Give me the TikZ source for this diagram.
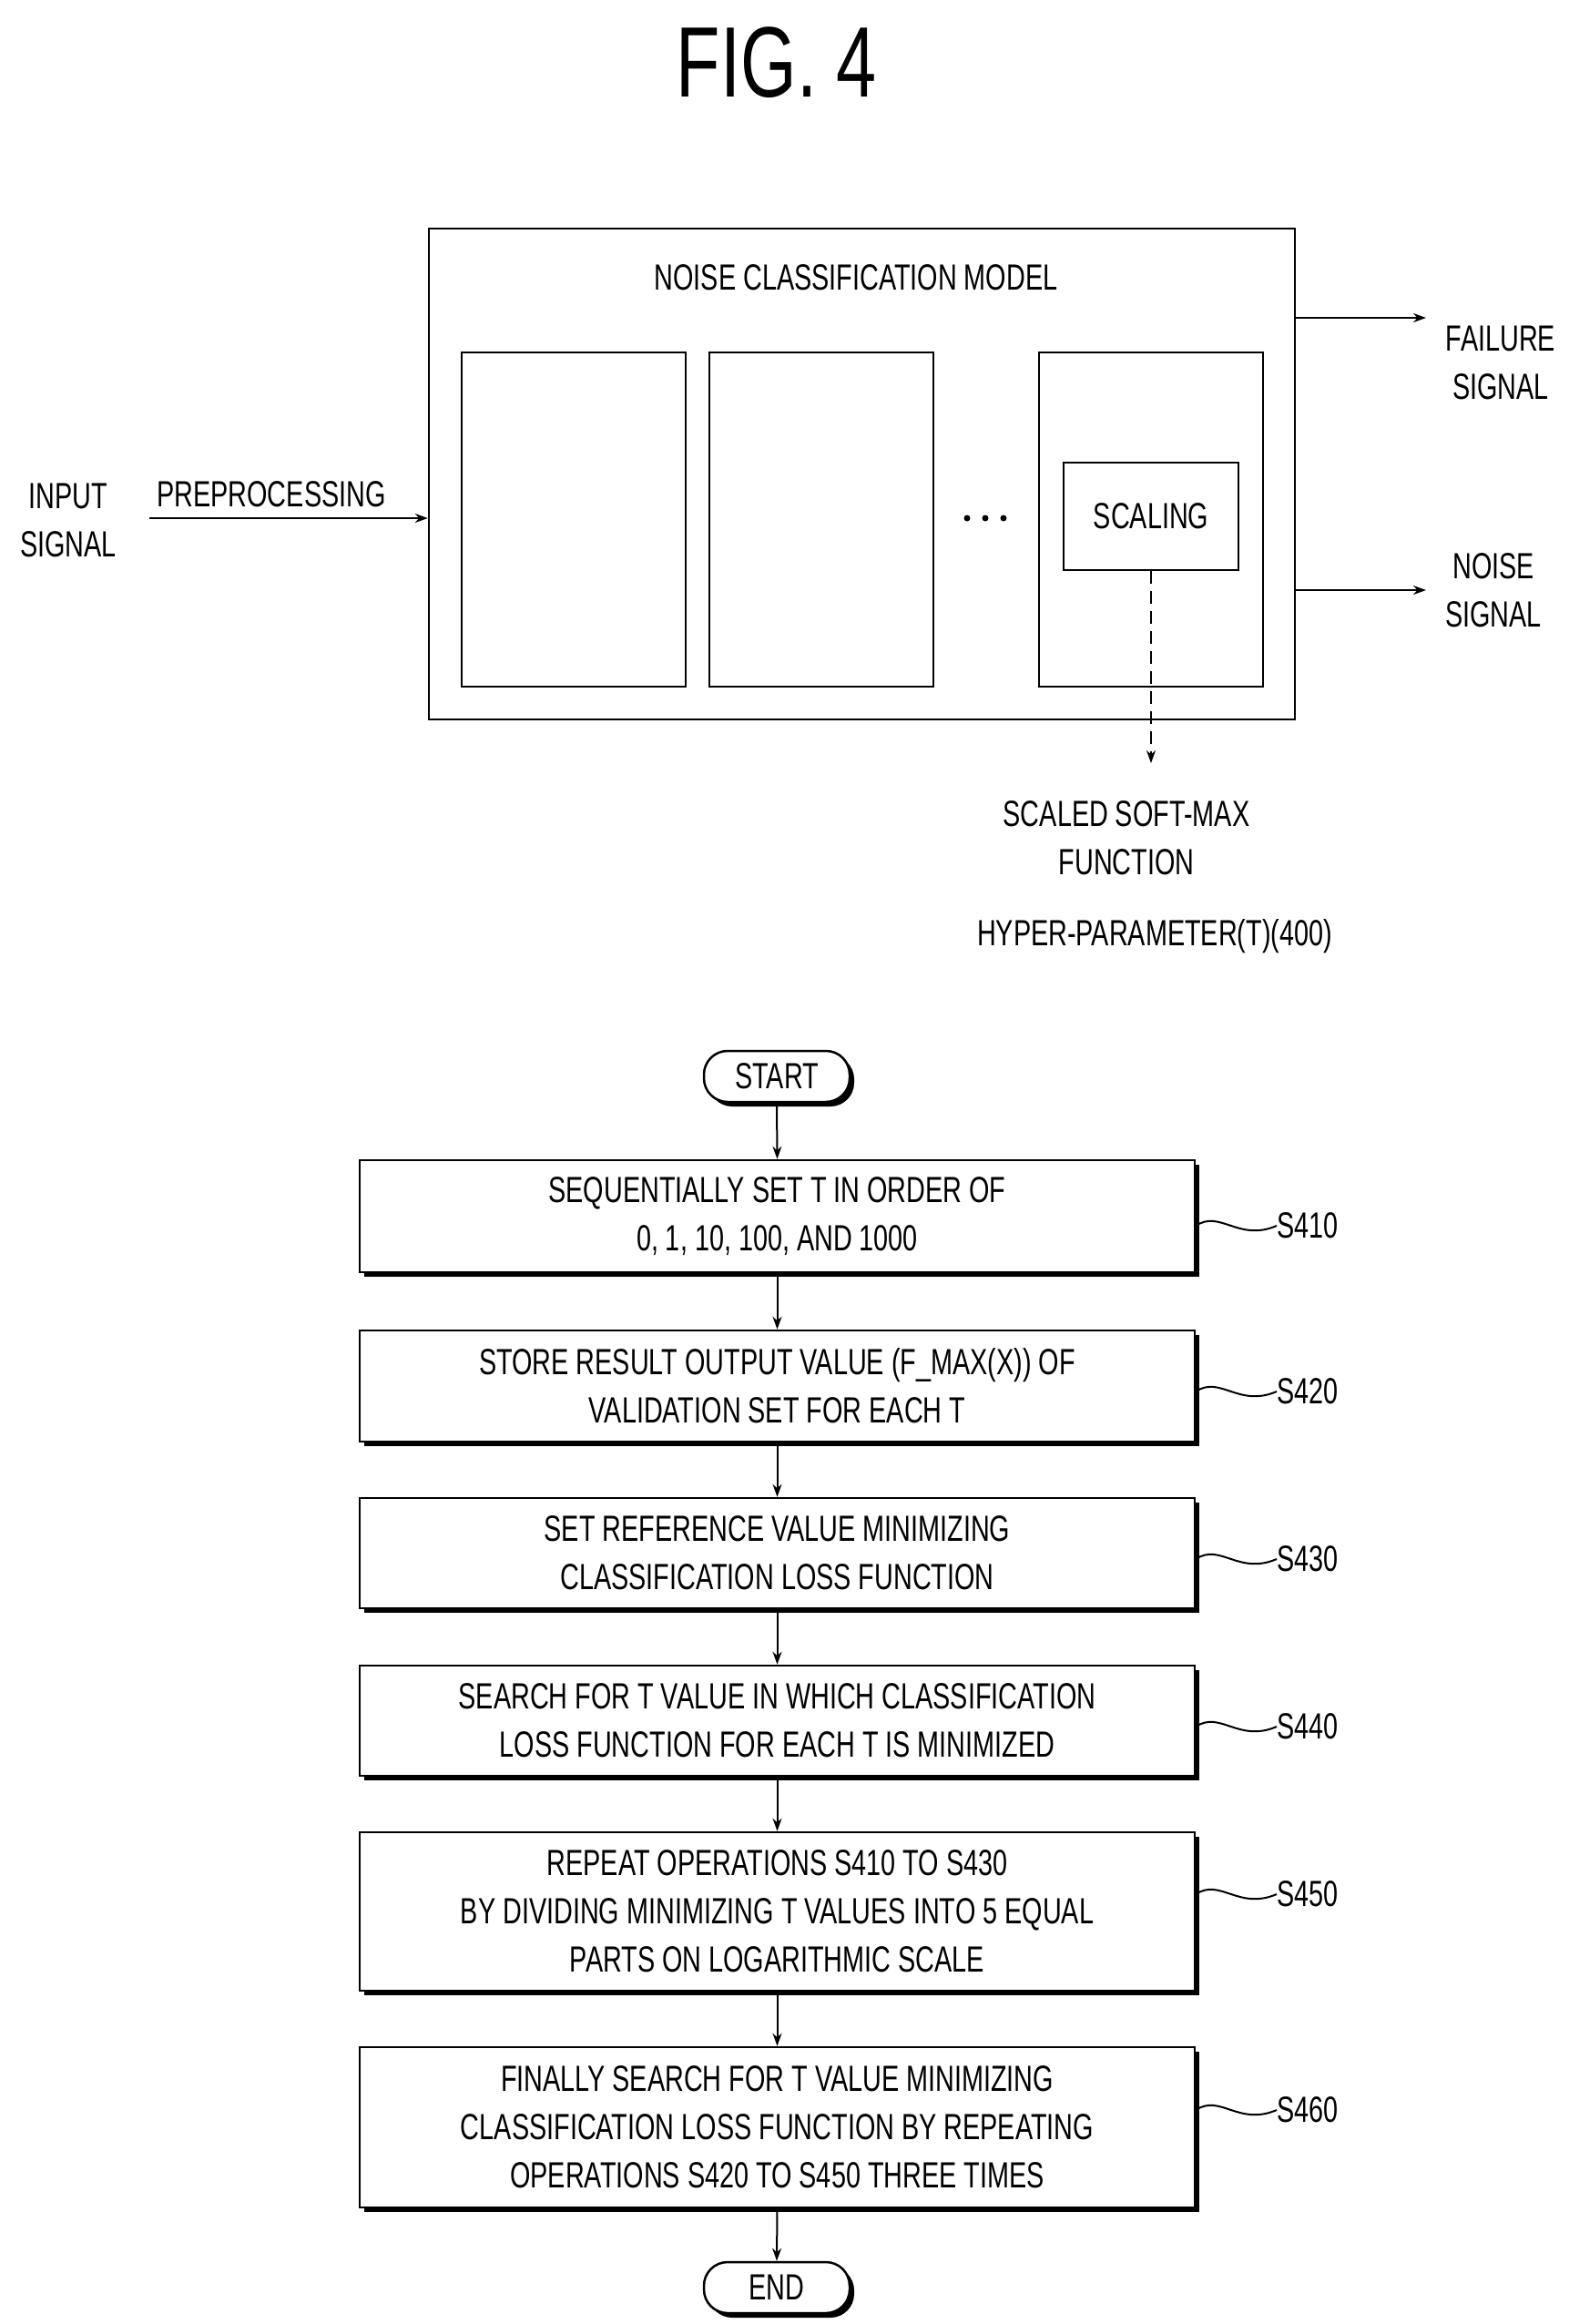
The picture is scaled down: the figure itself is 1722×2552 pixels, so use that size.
\documentclass[tikz,border=0pt]{standalone}
\usepackage{fontspec}
\setmainfont{Liberation Sans}[FakeStretch=0.72]
\usetikzlibrary{arrows.meta}
\begin{document}
\begin{tikzpicture}[x=1pt,y=-1pt,
  txt/.style={font=\fontsize{40}{53}\selectfont,align=center,inner sep=0},
  box/.style={draw,line width=2.5pt,inner sep=0},
  stepbox/.style={draw,line width=2.5pt,fill=white,minimum width=917pt,txt},
  arr/.style={line width=2pt,-{Stealth[length=14pt,width=10pt]}},
  lab/.style={txt,anchor=west},
  shadowed/.style={preaction={fill=black,transform canvas={shift={(5pt,-5pt)}}}}]
\useasboundingbox (0,0) rectangle (1722,2552);
\node[font=\fontsize{110}{120}\selectfont] (fig) at (853,69) {FIG. 4};
% top diagram
\node[box,minimum width=951pt,minimum height=539pt] (model) at (946.5,520.5) {};
\node[txt] (mt) at (940,305) {NOISE CLASSIFICATION MODEL};
\node[box,minimum width=246pt,minimum height=367pt] (b1) at (630,570.5) {};
\node[box,minimum width=246pt,minimum height=367pt] (b2) at (902,570.5) {};
\node[box,minimum width=246pt,minimum height=367pt] (b3) at (1264,570.5) {};
\node[box,minimum width=192pt,minimum height=118pt,txt] (sc) at (1264,567) {SCALING};
\node[inner sep=0] (dots) at (1082,569) {\tikz[x=1pt]{\foreach \i in {0,20,40} \fill (\i,0) circle (3.5pt);}};
\node[txt] (in) at (75,571) {INPUT\\SIGNAL};
\node[txt] (pre) at (298,543) {PREPROCESSING};
\coordinate (ins) at (164,569);
\draw[arr] (ins) -- (ins -| model.west);
\node[txt] (fail) at (1648,398) {FAILURE\\SIGNAL};
\node[txt] (noise) at (1640,648) {NOISE\\SIGNAL};
\draw[arr] (model.east |- 0,349) -- (1566,349);
\draw[arr] (model.east |- 0,648) -- (1566,648);
\node[txt] (sm) at (1237,920) {SCALED SOFT-MAX\\FUNCTION};
\node[txt] (hp) at (1268,1028) {HYPER-PARAMETER(T)(400)};
\draw[arr,dash pattern=on 14pt off 8pt] (sc.south) -- (1264,838);
% flowchart
\node[draw,line width=2.5pt,rounded corners=26pt,minimum width=160pt,minimum height=56pt,txt,shadowed,fill=white] (start) at (853,1182) {START};
\node[stepbox,shadowed,minimum height=123pt] (s1) at (853.5,1335.5) {SEQUENTIALLY SET T IN ORDER OF\\0, 1, 10, 100, AND 1000};
\node[stepbox,shadowed,minimum height=122pt] (s2) at (853.5,1522) {STORE RESULT OUTPUT VALUE (F\_MAX(X)) OF\\VALIDATION SET FOR EACH T};
\node[stepbox,shadowed,minimum height=121pt] (s3) at (853.5,1705.5) {SET REFERENCE VALUE MINIMIZING\\CLASSIFICATION LOSS FUNCTION};
\node[stepbox,shadowed,minimum height=121pt] (s4) at (853.5,1889.5) {SEARCH FOR T VALUE IN WHICH CLASSIFICATION\\LOSS FUNCTION FOR EACH T IS MINIMIZED};
\node[stepbox,shadowed,minimum height=174pt] (s5) at (853.5,2099) {REPEAT OPERATIONS S410 TO S430\\BY DIVIDING MINIMIZING T VALUES INTO 5 EQUAL\\PARTS ON LOGARITHMIC SCALE};
\node[stepbox,shadowed,minimum height=176pt] (s6) at (853.5,2336) {FINALLY SEARCH FOR T VALUE MINIMIZING\\CLASSIFICATION LOSS FUNCTION BY REPEATING\\OPERATIONS S420 TO S450 THREE TIMES};
\node[draw,line width=2.5pt,rounded corners=26pt,minimum width=160pt,minimum height=56pt,txt,shadowed,fill=white] (end) at (853,2512) {END};
\foreach \a/\b in {start/s1,s1/s2,s2/s3,s3/s4,s4/s5,s5/s6,s6/end}
  \draw[arr] (\a.south) -- (\b.north);
\foreach \s/\y/\t in {s1/1346/S410,s2/1528/S420,s3/1712/S430,s4/1896/S440,s5/2080/S450,s6/2317/S460}{
  \node[lab] (l\t) at (1402,\y) {\t};
  \draw[line width=2pt] (\s.east |- 0,\y) .. controls (1340,\y-18) and (1360,\y+18) .. (l\t.west);
}
\end{tikzpicture}
\end{document}
